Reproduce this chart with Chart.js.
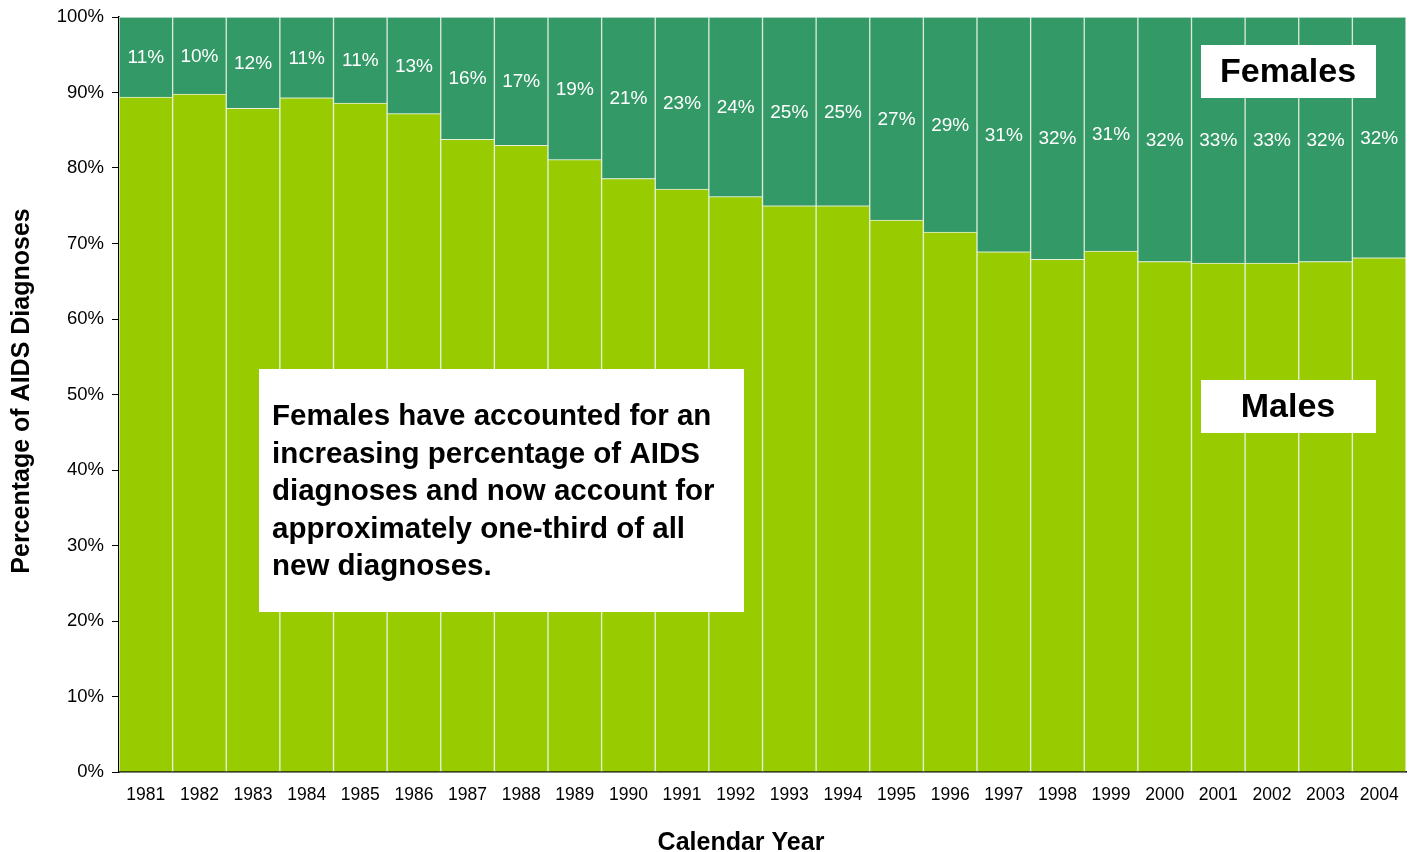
<!DOCTYPE html>
<html>
<head>
<meta charset="utf-8">
<script src="https://cdn.jsdelivr.net/npm/chart.js@4/dist/chart.umd.min.js"></script>
<style>
  html, body { margin: 0; padding: 0; background: #fff; }
  #wrap { width: 1416px; height: 852px; }
</style>
</head>
<body>
<div id="wrap"><canvas id="myChart" width="1416" height="852"></canvas></div>
<script>
var years = ['1981','1982','1983','1984','1985','1986','1987','1988','1989','1990','1991','1992',
             '1993','1994','1995','1996','1997','1998','1999','2000','2001','2002','2003','2004'];
var females = [10.6, 10.2, 12.1, 10.7, 11.4, 12.8, 16.2, 17.0, 18.9, 21.4, 22.8, 23.8,
               25.0, 25.0, 26.9, 28.5, 31.1, 32.1, 31.0, 32.4, 32.6, 32.6, 32.4, 31.9];
var males = [89.4, 89.8, 87.9, 89.3, 88.6, 87.2, 83.8, 83.0, 81.1, 78.6, 77.2, 76.2,
             75.0, 75.0, 73.1, 71.5, 68.9, 67.9, 69.0, 67.6, 67.4, 67.4, 67.6, 68.1];
var yTicks = [0, 10, 20, 30, 40, 50, 60, 70, 80, 90, 100];
var note = ['Females have accounted for an', 'increasing percentage of AIDS',
            'diagnoses and now account for', 'approximately one-third of all', 'new diagnoses.'];

var FONT = '"Liberation Sans", Arial, sans-serif';

// white percentage labels centred in the female segment
var segLabels = {
  id: 'segLabels',
  afterDatasetsDraw: function(chart) {
    var ctx = chart.ctx;
    var meta = chart.getDatasetMeta(1);
    ctx.save();
    ctx.fillStyle = '#fff';
    ctx.font = '19px ' + FONT;
    ctx.textAlign = 'center';
    ctx.textBaseline = 'middle';
    meta.data.forEach(function(bar, i) {
      var mid = (bar.y + bar.base) / 2 + 1;
      ctx.fillText(Math.round(females[i]) + '%', bar.x, mid);
    });
    ctx.restore();
  }
};

// white callout boxes + axis titles
var boxes = {
  id: 'boxes',
  afterDraw: function(chart) {
    var ctx = chart.ctx;
    ctx.save();
    ctx.fillStyle = '#fff';
    ctx.fillRect(1201, 45, 175, 53);
    ctx.fillRect(1201, 380, 175, 53);
    ctx.fillRect(259, 369, 485, 243);
    ctx.fillStyle = '#000';
    ctx.textBaseline = 'middle';
    ctx.textAlign = 'center';
    ctx.font = 'bold 34px ' + FONT;
    ctx.fillText('Females', 1288, 73);
    ctx.fillText('Males', 1288, 408);
    ctx.textAlign = 'left';
    ctx.font = 'bold 29.5px ' + FONT;
    note.forEach(function(line, i) {
      ctx.fillText(line, 272, 417 + i * 37.5);
    });

    ctx.textAlign = 'center';
    ctx.font = 'bold 25px ' + FONT;
    ctx.fillText('Calendar Year', 741, 843);
    ctx.translate(22, 391);
    ctx.rotate(-Math.PI / 2);
    ctx.fillText('Percentage of AIDS Diagnoses', 0, 0);
    ctx.restore();
  }
};

var ctx = document.getElementById('myChart');
var myChart = new Chart(ctx, {
  type: 'bar',
  data: {
    labels: years,
    datasets: [{
      label: 'Males',
      data: males,
      backgroundColor: '#99CC00',
      borderColor: '#e6f0d8',
      borderWidth: 1,
      categoryPercentage: 1,
      barPercentage: 1
    }, {
      label: 'Females',
      data: females,
      backgroundColor: '#339966',
      borderColor: '#d8e8dc',
      borderWidth: 1,
      categoryPercentage: 1,
      barPercentage: 1
    }]
  },
  options: {
    responsive: false,
    animation: false,
    layout: { padding: { top: 17, right: 10, left: 0, bottom: 0 } },
    plugins: {
      legend: { display: false },
      tooltip: { enabled: false }
    },
    scales: {
      x: {
        stacked: true,
        grid: { display: false },
        border: { display: true, color: '#000', width: 1.5 },
        ticks: { color: '#000', font: { family: FONT, size: 17.5 }, padding: 5, maxRotation: 0 },
        afterFit: function(scale) { scale.height = 80; }
      },
      y: {
        stacked: true,
        min: 0,
        max: 100,
        afterBuildTicks: function(scale) {
          scale.ticks = yTicks.map(function(v) { return { value: v }; });
        },
        grid: { drawOnChartArea: false, drawTicks: true, tickLength: 7, color: '#000' },
        border: { display: true, color: '#000', width: 1.5 },
        ticks: {
          color: '#000', font: { family: FONT, size: 18.5 }, padding: 8,
          callback: function(v) { return v + '%'; }
        },
        afterFit: function(scale) {
          scale.width = 119;
          scale.paddingTop = 8;
          scale.paddingBottom = 8;
        }
      }
    }
  },
  plugins: [segLabels, boxes]
});
</script>
</body>
</html>
